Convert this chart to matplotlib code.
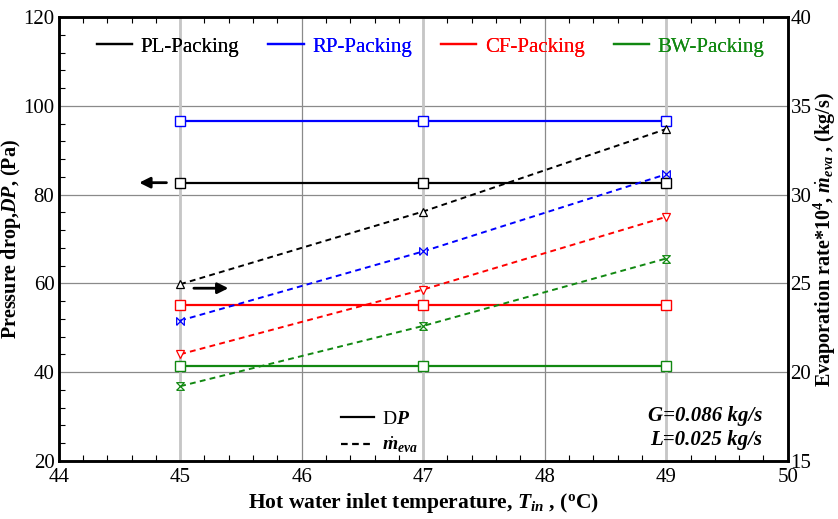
import numpy as np
import matplotlib
matplotlib.use('Agg')
import matplotlib.pyplot as plt
from matplotlib.lines import Line2D
from matplotlib.path import Path
from matplotlib.ticker import MultipleLocator

plt.rcParams['font.family'] = 'Liberation Serif'
plt.rcParams['mathtext.fontset'] = 'custom'
plt.rcParams['mathtext.rm'] = 'Liberation Serif'
plt.rcParams['mathtext.it'] = 'Liberation Serif:italic'
plt.rcParams['mathtext.bf'] = 'Liberation Serif:bold'
plt.rcParams['mathtext.bfit'] = 'Liberation Serif:bold:italic'

# datos
temps = [45, 47, 49]
dp_pl = [82.7, 82.7, 82.7]
dp_rp = [96.5, 96.5, 96.5]
dp_cf = [55.1, 55.1, 55.1]
dp_bw = [41.4, 41.4, 41.4]
evap_pl = [24.95, 29.05, 33.7]
evap_rp = [22.9, 26.8, 31.15]
evap_cf = [21.0, 24.65, 28.75]
evap_bw = [19.2, 22.6, 26.4]
nombres = ['PL-Packing', 'RP-Packing', 'CF-Packing', 'BW-Packing']
colores = ['black', '#0000ff', '#ff0000', '#118811']

# marcadores tipo lazo
lazo_h = Path([(-1, -1), (1, 1), (1, -1), (-1, 1), (-1, -1)])
lazo_v = Path([(-1, -1), (1, -1), (-1, 1), (1, 1), (-1, -1)])
marcas_evap = ['^', lazo_h, 'v', lazo_v]

fig = plt.figure(figsize=(8.38, 5.19), dpi=100)
ax = fig.add_axes([0.070, 0.1123, 0.870, 0.8544])
ax2 = ax.twinx()

ax.set_xlim(44, 50)
ax.set_ylim(20, 120)
ax2.set_ylim(15, 40)
ax.xaxis.set_major_locator(MultipleLocator(1))
ax.xaxis.set_minor_locator(MultipleLocator(0.2))
ax.yaxis.set_major_locator(MultipleLocator(20))
ax.yaxis.set_minor_locator(MultipleLocator(4))
ax2.yaxis.set_major_locator(MultipleLocator(5))

ax.grid(True, which='major', color='#8a8a8a', lw=0.9)
for t in temps:
    ax.axvline(t, color='#c6c6c6', lw=2.0, zorder=1.6)

ax.tick_params(which='both', direction='in', top=True, labelsize=15, pad=3)
ax.tick_params(axis='x', which='both', pad=5)
ax.tick_params(which='major', length=0)
ax.tick_params(which='minor', length=4, width=0.8)
ax2.tick_params(length=0, labelsize=15, pad=2)
for a in [ax, ax2]:
    for s in a.spines.values():
        s.set_linewidth(1.8)

series_dp = [dp_pl, dp_rp, dp_cf, dp_bw]
series_ev = [evap_pl, evap_rp, evap_cf, evap_bw]
for i in range(4):
    ax.plot(temps, series_dp[i], '-', color=colores[i], lw=1.6, marker='s', ms=6.5,
            mfc='white', mec=colores[i], mew=1.0, zorder=3)
    ax2.plot(temps, series_ev[i], '--', color=colores[i], lw=1.4, dashes=(3, 2.2),
             marker=marcas_evap[i], ms=5.5, mfc='white', mec=colores[i], mew=0.9)

# flechas
ax.annotate('', xy=(44.64, 82.7), xytext=(44.91, 82.7),
            arrowprops=dict(arrowstyle='-|>', color='black', lw=2, mutation_scale=16))
ax.annotate('', xy=(45.42, 58.9), xytext=(45.09, 58.9),
            arrowprops=dict(arrowstyle='-|>', color='black', lw=2, mutation_scale=16))

ax.set_xlabel(r'Hot water inlet temperature, $\mathbfit{T}_{\mathbfit{in}}$ , ($^\mathbf{o}$C)',
              fontsize=15.5, fontweight='bold', labelpad=3)
ax.set_ylabel(r'Pressure drop,$\mathbfit{DP}$, (Pa)', fontsize=14.5, fontweight='bold', labelpad=0)
ax2.set_ylabel(r'Evaporation rate*10$^\mathbf{4}$, $\dot{\mathbfit{m}}_{\mathbfit{eva}}$ , (kg/s)',
               fontsize=14.5, fontweight='bold', labelpad=0)

# leyenda superior
hs = [Line2D([], [], color=c, lw=1.6) for c in colores]
leg = ax.legend(hs, nombres, loc='center', bbox_to_anchor=(0.51, 0.933), ncol=4, frameon=False,
                fontsize=15, handlelength=1.7, handletextpad=0.4, columnspacing=1.4)
for txt, c in zip(leg.get_texts(), colores):
    txt.set_color(c)
ax.add_artist(leg)

# leyenda inferior
h2 = [Line2D([], [], color='black', lw=1.6), Line2D([], [], color='black', lw=1.6, ls='--', dashes=(3, 2))]
ax2.legend(h2, [r'$\mathrm{D}\mathbfit{P}$', r'$\dot{\mathbfit{m}}_{\mathbfit{eva}}$'],
           loc='center', bbox_to_anchor=(0.44, 0.063), frameon=False, fontsize=14,
           handlelength=1.7, handletextpad=0.4, labelspacing=0.35)

ax.text(0.965, 0.073, 'G=0.086 kg/s\nL=0.025 kg/s', transform=ax.transAxes, ha='right', va='center',
        fontsize=15, fontweight='bold', fontstyle='italic', linespacing=1.25)

plt.savefig('out.png', dpi=100)
